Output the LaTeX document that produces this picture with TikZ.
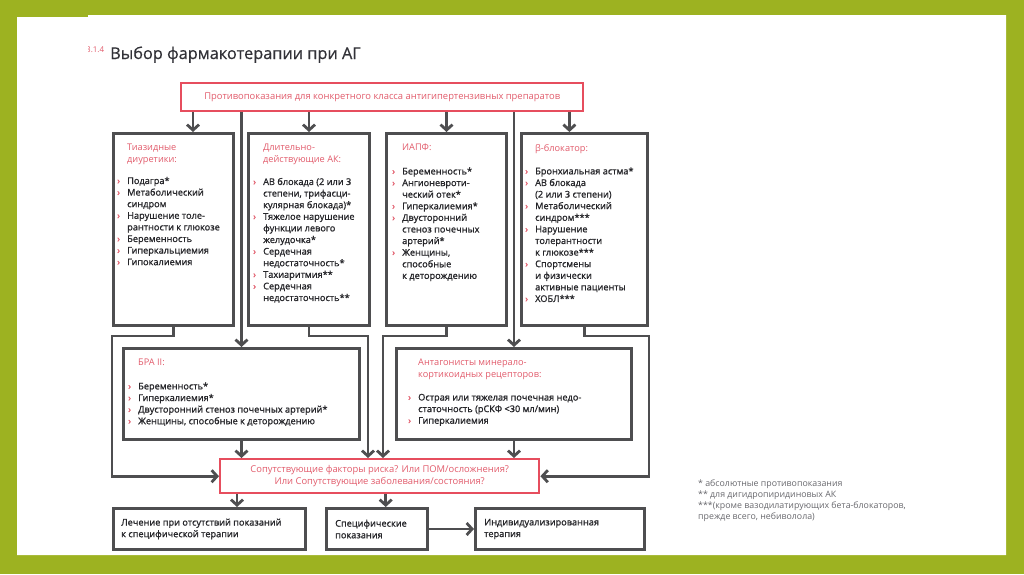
\documentclass[tikz,border=0pt]{standalone}
\usepackage{fontspec}
\setmainfont{Open Sans}
\newfontfamily\medfont{Open Sans}[FakeBold=1.1]
\newfontfamily\titlefont{Open Sans}[FakeBold=0.6]
\usetikzlibrary{positioning, arrows.meta}
\definecolor{slidegreen}{RGB}{157,178,33}
\definecolor{linegray}{RGB}{78,78,80}
\definecolor{alertred}{RGB}{230,78,94}
\definecolor{headred}{RGB}{226,92,108}
\definecolor{textdark}{RGB}{38,38,42}
\definecolor{titlegray}{RGB}{50,50,56}
\definecolor{notegray}{RGB}{105,105,110}
\newcommand{\bl}{\makebox[10pt][l]{\textcolor{headred}{›}}}
\newcommand{\ind}{\hspace*{10pt}}
\newcommand{\hd}[1]{{\rmfamily\color{headred}#1}}
\tikzset{
  box/.style={draw=linegray, line width=3pt, inner sep=0pt, anchor=north west},
  redbox/.style={draw=alertred, line width=2.4pt, align=center, text=headred,
                 font=\fontsize{9.4}{12.2}\selectfont},
  txt/.style={anchor=north west, inner sep=0pt, align=left, text=textdark,
              font=\medfont\fontsize{9.2}{11.6}\selectfont},
  flow/.style={draw=linegray, line width=2.8pt, -{Straight Barb[length=5.5pt, width=12pt]}},
}

\begin{document}
\begin{tikzpicture}[x=1pt, y=-1pt]
  % slide frame
  \fill[slidegreen] (0,0) rectangle (1024,574);
  \fill[white] (17,17) -- (88,17) -- (88,15) -- (1006,15) -- (1006,555) -- (17,555) -- cycle;
  \useasboundingbox (0,0) rectangle (1024,574);

  % title
  \begin{scope}
    \clip (88,30) rectangle (109,65);
    \node[anchor=base west, inner sep=0pt, text=headred,
          font=\fontsize{8}{9}\selectfont] (secnum) at (86,52) {3.1.4};
  \end{scope}
  \node[anchor=base west, inner sep=0pt, text=titlegray,
        font=\titlefont\fontsize{16.3}{20}\selectfont] (title) at (110,59) {Выбор фармакотерапии при АГ};

  % contraindications
  \node[redbox, anchor=north west, minimum width=402pt, minimum height=28pt] (contra) at (180,82)
    {Противопоказания для конкретного класса антигипертензивных препаратов};

  % drug classes
  \node[box, minimum width=120pt, minimum height=192pt] (thz) at (112,132) {};
  \node[box, minimum width=121pt, minimum height=192pt, right=12pt of thz] (ak) {};
  \node[box, minimum width=120pt, minimum height=192pt, right=14pt of ak] (iapf) {};
  \node[box, minimum width=126pt, minimum height=192pt, right=12pt of iapf] (bb) {};

  \node[txt] (thz-t) at ([shift={(5,12)}]thz.north west)
    {\hd{\ind Тиазидные}\\ \hd{\ind диуретики:}\\[10pt]
     \bl Подагра*\\ \bl Метаболический\\ \ind синдром\\ \bl Нарушение толе-\\
     \ind рантности к глюкозе\\ \bl Беременность\\ \bl Гиперкальциемия\\ \bl Гипокалиемия};
  \node[txt] (ak-t) at ([shift={(6,12)}]ak.north west)
    {\hd{\ind Длительно-}\\ \hd{\ind действующие АК:}\\[11pt]
     \bl АВ блокада (2 или 3\\ \ind степени, трифасци-\\ \ind кулярная блокада)*\\
     \bl Тяжелое нарушение\\ \ind функции левого\\ \ind желудочка*\\ \bl Сердечная\\
     \ind недостаточность*\\ \bl Тахиаритмия**\\ \bl Сердечная\\ \ind недостаточность**};
  \node[txt] (iapf-t) at ([shift={(7,12)}]iapf.north west)
    {\hd{\ind ИАПФ:}\\[12pt]
     \bl Беременность*\\ \bl Ангионевроти-\\ \ind ческий отек*\\ \bl Гиперкалиемия*\\
     \bl Двусторонний\\ \ind стеноз почечных\\ \ind артерий*\\ \bl Женщины,\\
     \ind способные\\ \ind к деторождению};
  \node[txt] (bb-t) at ([shift={(5,12)}]bb.north west)
    {\hd{\ind β-блокатор:}\\[11.5pt]
     \bl Бронхиальная астма*\\ \bl АВ блокада\\ \ind (2 или 3 степени)\\ \bl Метаболический\\
     \ind синдром***\\ \bl Нарушение\\ \ind толерантности\\ \ind к глюкозе***\\
     \bl Спортсмены\\ \ind и физически\\ \ind активные пациенты\\ \bl ХОБЛ***};

  \node[box, minimum width=236pt, minimum height=91pt] (bra) at (122,347) {};
  \node[box, minimum width=235pt, minimum height=91pt] (amr) at (395,347) {};

  \node[txt] (bra-t) at ([shift={(6,12)}]bra.north west)
    {\hd{\ind БРА II:}\\[12pt]
     \bl Беременность*\\ \bl Гиперкалиемия*\\ \bl Двусторонний стеноз почечных артерий*\\
     \bl Женщины, способные к деторождению};
  \node[txt] (amr-t) at ([shift={(13,12)}]amr.north west)
    {\hd{\ind Антагонисты минерало-}\\ \hd{\ind кортикоидных рецепторов:}\\[11.5pt]
     \bl Острая или тяжелая почечная недо-\\ \ind статочность (рСКФ <30 мл/мин)\\
     \bl Гиперкалиемия};

  % risk question
  \node[redbox, anchor=north west, minimum width=319pt, minimum height=34pt] (risk) at (219,458)
    {Сопутствующие факторы риска? Или ПОМ/осложнения?\\Или Сопутствующие заболевания/состояния?};

  % outcomes
  \node[box, minimum width=192pt, minimum height=41pt] (nospec) at (112,507) {};
  \node[box, minimum width=101pt, minimum height=41pt, right=18pt of nospec] (spec) {};
  \node[box, minimum width=169pt, minimum height=41pt, right=45pt of spec] (indiv) {};
  \node[txt, anchor=west] (nospec-t) at ([xshift=9pt]nospec.west)
    {Лечение при отсутствий показаний\\к специфической терапии};
  \node[txt, anchor=west] (spec-t) at ([xshift=10pt]spec.west) {Специфические\\показания};
  \node[txt, anchor=west] (indiv-t) at ([xshift=10pt]indiv.west) {Индивидуализированная\\терапия};

  % footnotes
  \node[anchor=north west, inner sep=0pt, align=left, text=notegray,
        font=\fontsize{8.8}{10.7}\selectfont] (notes) at (698,480)
    {* абсолютные противопоказания\\** для дигидропиридиновых АК\\
     ***(кроме вазодилатирующих бета-блокаторов,\\прежде всего, небиволола)};

  % arrows
  \draw[flow] ([xshift=13pt]contra.south west) -- ([xshift=13pt]contra.south west |- thz.north);
  \draw[flow] (contra.south -| ak.north) -- (ak.north);
  \draw[flow] (contra.south -| iapf.north) -- (iapf.north);
  \draw[flow] ([xshift=-15pt]contra.south east) -- ([xshift=-15pt]contra.south east |- bb.north);
  \draw[flow] (contra.south -| bra.north) -- (bra.north);
  \draw[flow] (contra.south -| amr.north) -- (amr.north);

  \draw[flow] (thz.south) -- ++(0,9) -| (thz.west |- risk.west) -- (risk.west);
  \draw[flow] (ak.south) -- ++(0,9) -| ([xshift=7pt]bra.east |- risk.north);
  \draw[flow] (iapf.south) -- ++(0,9) -| ([xshift=-12pt]amr.west |- risk.north);
  \draw[flow] (bb.south) -- ++(0,9) -| (bb.east |- risk.east) -- (risk.east);
  \draw[flow] (bra.south) -- (bra.south |- risk.north);
  \draw[flow] (amr.south) -- (amr.south |- risk.north);

  \draw[flow] ([xshift=18pt]risk.south west) -- ([xshift=18pt]risk.south west |- nospec.north);
  \draw[flow] ([xshift=6pt]risk.south) -- ([xshift=6pt]risk.south |- spec.north);
  \draw[flow] (spec) -- (indiv);
\end{tikzpicture}
\end{document}
